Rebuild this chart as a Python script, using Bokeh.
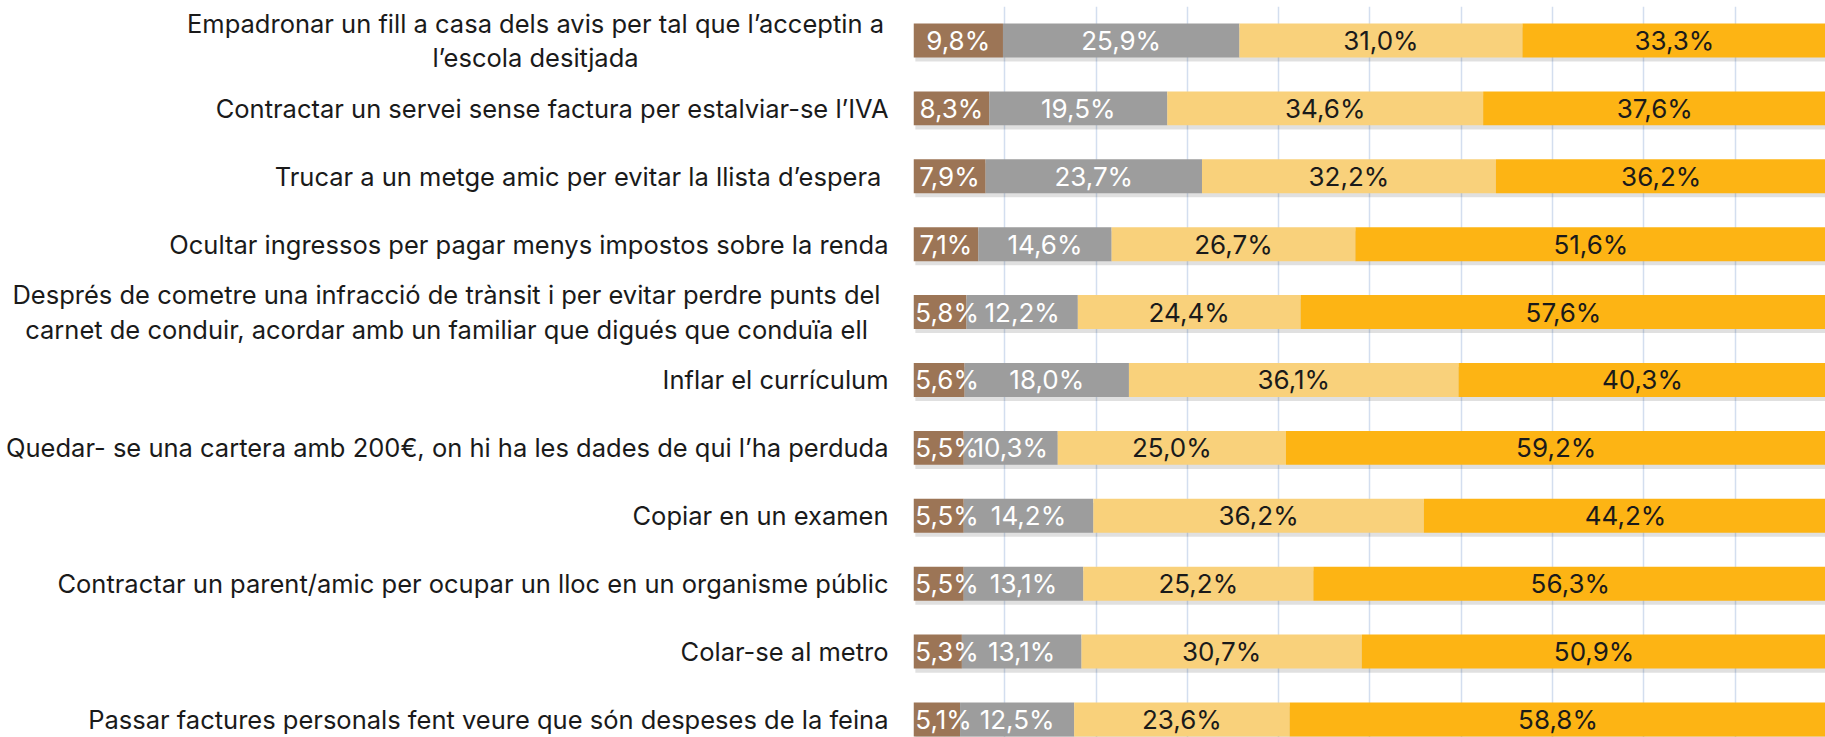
from bokeh.plotting import figure
from bokeh.models import ColumnDataSource, Range1d, FixedTicker
from bokeh.layouts import row
from bokeh.core.properties import value
from bokeh.embed import file_html
from bokeh.resources import INLINE

categories = [
    "Empadronar un fill a casa dels avis per tal que l’acceptin a\nl’escola desitjada",
    "Contractar un servei sense factura per estalviar-se l’IVA",
    "Trucar a un metge amic per evitar la llista  d’espera",
    "Ocultar ingressos per pagar menys impostos sobre la renda",
    "Després de cometre una infracció de trànsit i per evitar perdre punts del\ncarnet de conduir, acordar amb un familiar que digués que conduïa ell",
    "Inflar el currículum",
    "Quedar- se una cartera amb 200€, on hi ha les dades de qui l’ha perduda",
    "Copiar en un examen",
    "Contractar un parent/amic per ocupar un lloc en un organisme públic",
    "Colar-se al metro",
    "Passar factures personals fent veure que són despeses de la feina",
]
serie1 = [9.8, 8.3, 7.9, 7.1, 5.8, 5.6, 5.5, 5.5, 5.5, 5.3, 5.1]
serie2 = [25.9, 19.5, 23.7, 14.6, 12.2, 18.0, 10.3, 14.2, 13.1, 13.1, 12.5]
serie3 = [31.0, 34.6, 32.2, 26.7, 24.4, 36.1, 25.0, 36.2, 25.2, 30.7, 23.6]
serie4 = [33.3, 37.6, 36.2, 51.6, 57.6, 40.3, 59.2, 44.2, 56.3, 50.9, 58.8]
series = [serie1, serie2, serie3, serie4]
colors = ["#9C7556", "#9D9D9D", "#F9D17B", "#FDB414"]
text_colors = ["#FFFFFF", "#FFFFFF", "#1A1A1A", "#1A1A1A"]
grid_ticks = [0, 10, 20, 30, 40, 50, 60, 70, 80, 90, 100]

FONT = "Inter"
n = len(categories)
ys = list(range(n))
y_range = Range1d(10.265, -0.50)

# ---- category label panel (left) ----
LABEL_W = 913
lp = figure(width=LABEL_W, height=737, output_backend="svg", toolbar_location=None,
            x_range=Range1d(0, LABEL_W), y_range=y_range,
            min_border_left=0, min_border_right=0, min_border_top=6, min_border_bottom=0)
lp.axis.visible = False
lp.grid.visible = False
lp.outline_line_color = None

right_edge = 888
multi_centre = {0: 535, 4: 446}
sx, sy, st = [], [], []
mx, my, mt = [], [], []
for i, c in enumerate(categories):
    if "\n" in c:
        mx.append(multi_centre[i]); my.append(ys[i]); mt.append(c)
    else:
        sx.append(right_edge); sy.append(ys[i]); st.append(c)
lp.text(x="x", y="y", text="t", source=ColumnDataSource(dict(x=sx, y=sy, t=st)),
        text_align="right", text_baseline="middle", text_color="#1A1A1A",
        text_font=value(FONT), text_font_size="25.5px")
lp.text(x="x", y="y", text="t", source=ColumnDataSource(dict(x=mx, y=my, t=mt)),
        text_align="center", text_baseline="middle", text_color="#1A1A1A",
        text_font=value(FONT), text_font_size="25.5px", text_line_height=1.12)

# ---- bar chart ----
p = figure(width=1825 - LABEL_W, height=737, output_backend="svg", toolbar_location=None,
           x_range=Range1d(0, 99.9), y_range=y_range,
           min_border_left=0, min_border_right=0, min_border_top=6, min_border_bottom=0)
p.outline_line_color = None
p.xaxis.visible = False
p.yaxis.visible = False
p.xgrid.ticker = FixedTicker(ticks=grid_ticks)
p.xgrid.grid_line_color = "#D3DEEF"
p.xgrid.grid_line_width = 1.5
p.ygrid.visible = False

# shadow
shadow = ColumnDataSource(dict(y=[y + 0.06 for y in ys], left=[0.2] * n,
                               right=[sum(s[i] for s in series) + 0.2 for i in range(n)]))
p.hbar(y="y", left="left", right="right", height=0.5, source=shadow,
       fill_color="#000000", fill_alpha=0.12, line_color=None)

lefts = [0.0] * n
cx, cy, ct, cc = [], [], [], []
lx, ly, lt, lc = [], [], [], []
for k, s in enumerate(series):
    rights = [lefts[i] + s[i] for i in range(n)]
    src = ColumnDataSource(dict(y=ys, left=list(lefts), right=rights))
    p.hbar(y="y", left="left", right="right", height=0.5, source=src,
           fill_color=colors[k], line_color=None)
    for i in range(n):
        txt = f"{s[i]:.1f}%".replace(".", ",")
        if k == 0 and s[i] < 6.8:
            # label wider than its segment: kept inside the plot area
            lx.append(lefts[i] + 0.2); ly.append(ys[i]); lt.append(txt); lc.append(text_colors[k])
        else:
            cx.append((lefts[i] + rights[i]) / 2); cy.append(ys[i]); ct.append(txt); cc.append(text_colors[k])
    lefts = rights

p.text(x="x", y="y", text="t", source=ColumnDataSource(dict(x=cx, y=cy, t=ct, c=cc)),
       text_color="c", text_align="center", text_baseline="middle",
       text_font=value(FONT), text_font_size="26px")
p.text(x="x", y="y", text="t", source=ColumnDataSource(dict(x=lx, y=ly, t=lt, c=lc)),
       text_color="c", text_align="left", text_baseline="middle",
       text_font=value(FONT), text_font_size="26px")

layout = row(lp, p, spacing=0)
open("out.html", "w").write(file_html(layout, INLINE))
